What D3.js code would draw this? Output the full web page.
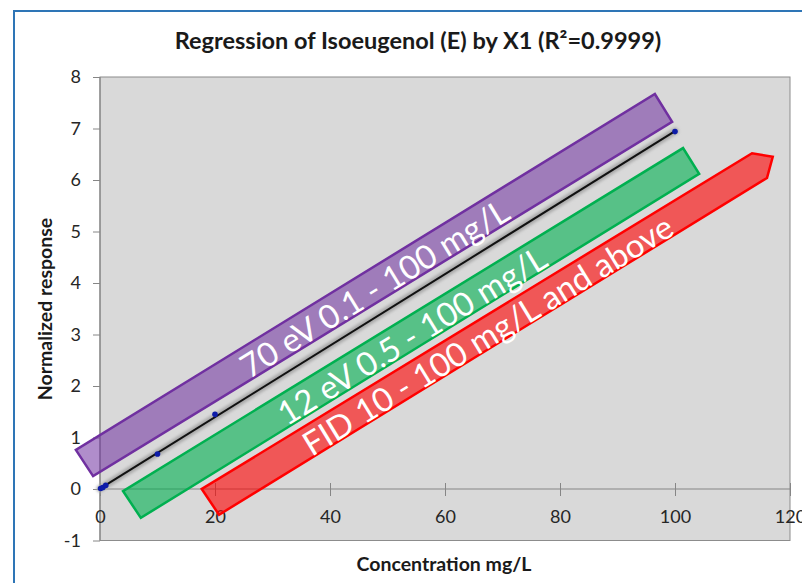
<!DOCTYPE html>
<html>
<head>
<meta charset="utf-8">
<script src="https://cdn.jsdelivr.net/npm/d3@7"></script>
<style>
  html, body { margin: 0; padding: 0; background: #ffffff; }
  svg { display: block; }
</style>
</head>
<body>
<svg id="chart" width="802" height="583"></svg>
<script>
// Calibration data: concentration (mg/L) vs. normalized response
const concentration = [0.1, 0.5, 1, 10, 20, 100];
const response = [0.01, 0.03, 0.07, 0.68, 1.45, 6.94];

const xTicks = [0, 20, 40, 60, 80, 100, 120];
const yTicks = [-1, 0, 1, 2, 3, 4, 5, 6, 7, 8];

// Range annotations (outline in data units) and their labels
const bandNames = ["ev70", "ev12", "fid"];
const bandLabels = ["70 eV 0.1 - 100 mg/L", "12 eV 0.5 - 100 mg/L", "FID 10 - 100 mg/L and above"];
const bandOutlines = [
  [[-4.2, 0.76], [-1.2, 0.25], [99.5, 7.13], [96.5, 7.67]],
  [[4.0, -0.04], [7.1, -0.56], [104.2, 6.12], [101.4, 6.62]],
  [[17.7, 0.0], [20.7, -0.5], [116.0, 6.04], [117.0, 6.45], [113.4, 6.52]]
];

const titleText = "Regression of Isoeugenol (E) by X1 (R\u00b2=0.9999)";
const xTitle = "Concentration mg/L";
const yTitle = "Normalized response";

const svg = d3.select("#chart");
const font = "Lato, 'Open Sans', sans-serif";

const plot = { left: 100, right: 790, top: 77, bottom: 540.5 };
const x = d3.scaleLinear().domain([0, 120]).range([plot.left, plot.right]);
const y = d3.scaleLinear().domain([-1, 8]).range([plot.bottom, plot.top]);

// blur filters
const defs = svg.append("defs");
defs.append("filter").attr("id", "soft").attr("x", "-10%").attr("y", "-10%").attr("width", "120%").attr("height", "120%")
  .append("feGaussianBlur").attr("stdDeviation", 1.6);
defs.append("filter").attr("id", "dotblur")
  .append("feGaussianBlur").attr("stdDeviation", 0.5);

// chart frame
svg.append("rect")
  .attr("x", 14).attr("y", 11)
  .attr("width", 820).attr("height", 600)
  .attr("fill", "#ffffff")
  .attr("stroke", "#2e75b6").attr("stroke-width", 2);

// plot area
svg.append("rect")
  .attr("x", plot.left).attr("y", plot.top)
  .attr("width", plot.right - plot.left).attr("height", plot.bottom - plot.top)
  .attr("fill", "#d9d9d9")
  .attr("stroke", "#8c8c8c").attr("stroke-width", 1);

// axes
const yAxis = svg.append("g")
  .attr("transform", `translate(${plot.left},0)`)
  .call(d3.axisLeft(y).tickValues(yTicks).tickSize(7).tickPadding(12).tickFormat(d => String(d)));
const xAxis = svg.append("g")
  .attr("transform", `translate(0,${y(0)})`)
  .call(d3.axisBottom(x).tickValues(xTicks).tickSize(7).tickPadding(14).tickFormat(d => String(d)));

[yAxis, xAxis].forEach(g => {
  g.select(".domain").attr("stroke", "#868686").attr("stroke-width", 1.2);
  g.selectAll(".tick line").attr("stroke", "#868686").attr("stroke-width", 1);
  g.selectAll(".tick text").attr("fill", "#262626").style("font-family", font).style("font-size", "18px");
});
yAxis.select(".domain").attr("d", `M0,${plot.top}V${plot.bottom}`);
xAxis.select(".domain").attr("d", `M${plot.left},0H${plot.right}`);
xAxis.selectAll(".tick line").attr("y1", -6).attr("y2", 7);

// least-squares regression line from the data
const n = concentration.length;
const mx = d3.mean(concentration), my = d3.mean(response);
let sxy = 0, sxx = 0;
for (let i = 0; i < n; i++) {
  sxy += (concentration[i] - mx) * (response[i] - my);
  sxx += (concentration[i] - mx) ** 2;
}
const slope = sxy / sxx;
const intercept = my - slope * mx;
const xMin = 0, xMax = d3.max(concentration);
const fitLine = d3.line().x(d => x(d[0])).y(d => y(d[1]));
const fitPts = [[xMin, intercept + slope * xMin], [xMax, intercept + slope * xMax]];

svg.append("path")
  .attr("d", fitLine(fitPts))
  .attr("stroke", "#a9a9a9").attr("stroke-width", 7).attr("fill", "none")
  .attr("stroke-linecap", "round")
  .attr("filter", "url(#soft)");
svg.append("path")
  .attr("d", fitLine(fitPts))
  .attr("stroke", "#111111").attr("stroke-width", 2).attr("fill", "none");

// observations
svg.append("g").selectAll("circle")
  .data(concentration.map((c, i) => [c, response[i]]))
  .join("circle")
  .attr("cx", d => x(d[0])).attr("cy", d => y(d[1]))
  .attr("r", 2.8)
  .attr("fill", "#0b1aa8")
  .attr("filter", "url(#dotblur)");

// range annotations
const bandFill = ["rgba(112,48,160,0.55)", "rgba(0,176,80,0.6)", "rgba(255,0,0,0.6)"];
const bandStroke = ["#7030a0", "#00b050", "#ff0000"];
const outline = d3.line().x(d => x(d[0])).y(d => y(d[1]));

bandOutlines.forEach((pts, i) => {
  svg.append("path")
    .attr("class", "band " + bandNames[i])
    .attr("d", outline(pts) + "Z")
    .attr("fill", bandFill[i])
    .attr("stroke", bandStroke[i]).attr("stroke-width", 2.5)
    .attr("stroke-linejoin", "miter");
});

bandOutlines.forEach((pts, i) => {
  const px = pts.map(p => [x(p[0]), y(p[1])]);
  // center of the long axis: midpoint of first two corners and of the far corners
  const a = [(px[0][0] + px[1][0]) / 2, (px[0][1] + px[1][1]) / 2];
  const far = px.slice(2);
  const b = [d3.mean(far, p => p[0]), d3.mean(far, p => p[1])];
  const cx = (a[0] + b[0]) / 2, cy = (a[1] + b[1]) / 2;
  const ang = Math.atan2(b[1] - a[1], b[0] - a[0]) * 180 / Math.PI;
  svg.append("text")
    .attr("transform", `translate(${cx},${cy + 2}) rotate(${ang})`)
    .attr("text-anchor", "middle")
    .attr("dominant-baseline", "central")
    .attr("fill", "#ffffff")
    .style("font-family", font)
    .style("font-size", "33px")
    .text(bandLabels[i]);
});

// titles
svg.append("text")
  .attr("x", 418).attr("y", 49)
  .attr("text-anchor", "middle")
  .attr("fill", "#1a1a1a")
  .style("font-family", font).style("font-weight", "bold").style("font-size", "23.5px")
  .text(titleText);

svg.append("text")
  .attr("x", 444).attr("y", 571)
  .attr("text-anchor", "middle")
  .attr("fill", "#1a1a1a")
  .style("font-family", font).style("font-weight", "bold").style("font-size", "19.5px")
  .text(xTitle);

svg.append("text")
  .attr("transform", "translate(52,309) rotate(-90)")
  .attr("text-anchor", "middle")
  .attr("fill", "#1a1a1a")
  .style("font-family", font).style("font-weight", "bold").style("font-size", "19.5px")
  .text(yTitle);
</script>
</body>
</html>
